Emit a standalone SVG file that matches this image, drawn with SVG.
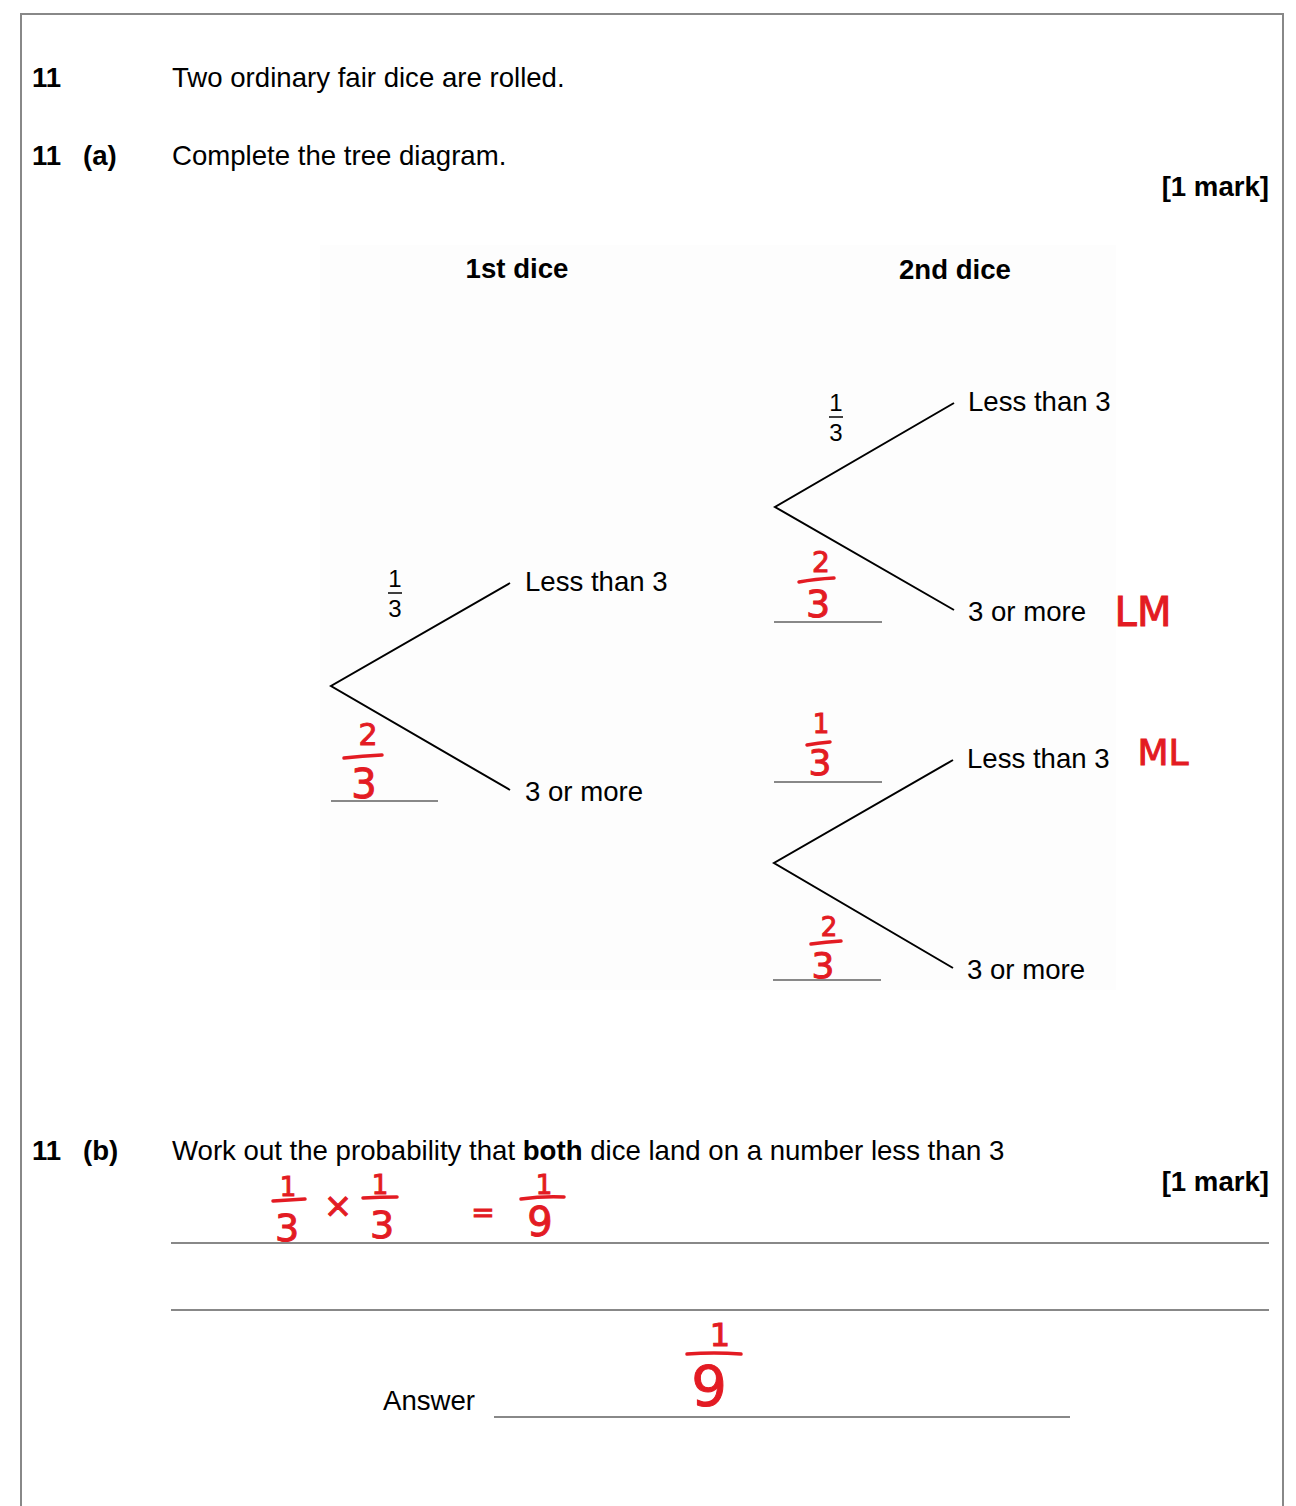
<svg xmlns="http://www.w3.org/2000/svg" width="1296" height="1506" viewBox="0 0 1296 1506">
<style>
.t{font-family:"Liberation Sans",Arial,sans-serif;font-size:27.6px;fill:#000}
.b{font-weight:bold}
.f{font-family:"Liberation Sans",Arial,sans-serif;font-size:24px;fill:#000;text-anchor:middle}
.br{stroke:#000;stroke-width:2;fill:none}
.ln{stroke:#888;stroke-width:2;fill:none}
.h{font-family:"DejaVu Sans","Liberation Sans",sans-serif;fill:#e31b23;stroke:#e31b23;stroke-width:1;text-anchor:middle}
.hl{stroke:#e31b23;stroke-width:3.5;stroke-linecap:round;fill:none}
</style>
<rect width="1296" height="1506" fill="#fff"/>
<path d="M21 1506 V14 H1283 V1506" fill="none" stroke="#888" stroke-width="2"/>
<rect x="320" y="245" width="796" height="745" fill="#fdfdfd"/>

<g id="header">
<text class="t b" x="32" y="87">11</text>
<text class="t" x="172" y="87">Two ordinary fair dice are rolled.</text>
<text class="t b" x="32" y="165">11</text>
<text class="t b" x="83" y="165">(a)</text>
<text class="t" x="172" y="165">Complete the tree diagram.</text>
<text class="t b" x="1269" y="196" text-anchor="end">[1 mark]</text>
<text class="t b" x="517" y="278" text-anchor="middle">1st dice</text>
<text class="t b" x="955" y="279" text-anchor="middle">2nd dice</text>
</g>

<g id="connectors">
<path class="br" d="M510 583 L331 686 L510 790"/>
<path class="br" d="M954 403 L775 507 L954 610"/>
<path class="br" d="M953 760 L774 863 L953 968"/>
<line class="ln" x1="331" y1="801" x2="438" y2="801"/>
<line class="ln" x1="774" y1="622" x2="882" y2="622"/>
<line class="ln" x1="774" y1="782" x2="882" y2="782"/>
<line class="ln" x1="773" y1="980" x2="881" y2="980"/>
</g>

<g id="node-1st-less">
<text class="t" x="525" y="591">Less than 3</text>
<text class="f" x="395" y="587">1</text>
<line x1="388" y1="593" x2="402" y2="593" stroke="#000" stroke-width="1.5"/>
<text class="f" x="395" y="617">3</text>
</g>
<g id="node-1st-more">
<text class="t" x="525" y="801">3 or more</text>
<text class="h" x="368" y="745" font-size="30">2</text>
<path class="hl" d="M344 758 Q362 756 382 755"/>
<text class="h" x="364" y="798" font-size="40">3</text>
</g>

<g id="node-2nd-upper-less">
<text class="t" x="968" y="411">Less than 3</text>
<text class="f" x="836" y="411">1</text>
<line x1="829" y1="417" x2="843" y2="417" stroke="#000" stroke-width="1.5"/>
<text class="f" x="836" y="441">3</text>
</g>
<g id="node-2nd-upper-more">
<text class="t" x="968" y="621">3 or more</text>
<text class="h" x="821" y="572" font-size="28">2</text>
<path class="hl" d="M799 582 Q815 579 834 578"/>
<text class="h" x="818" y="617" font-size="38">3</text>
<text class="h" x="1143" y="626" font-size="40">LM</text>
</g>

<g id="node-2nd-lower-less">
<text class="t" x="967" y="768">Less than 3</text>
<text class="h" x="821" y="733" font-size="26">1</text>
<path class="hl" d="M807 745 Q818 743 830 742"/>
<text class="h" x="820" y="775" font-size="36">3</text>
<text class="h" x="1163" y="765" font-size="36">ML</text>
</g>
<g id="node-2nd-lower-more">
<text class="t" x="967" y="979">3 or more</text>
<text class="h" x="829" y="936" font-size="26">2</text>
<path class="hl" d="M811 944 Q826 942 841 941"/>
<text class="h" x="823" y="978" font-size="36">3</text>
</g>

<g id="part-b">
<text class="t b" x="32" y="1160">11</text>
<text class="t b" x="83" y="1160">(b)</text>
<text class="t" x="172" y="1160">Work out the probability that <tspan class="b">both</tspan> dice land on a number less than 3</text>
<text class="t b" x="1269" y="1191" text-anchor="end">[1 mark]</text>
<line class="ln" x1="171" y1="1243" x2="1269" y2="1243"/>
<line class="ln" x1="171" y1="1310" x2="1269" y2="1310"/>
<text class="t" x="383" y="1410">Answer</text>
<line class="ln" x1="494" y1="1417" x2="1070" y2="1417"/>
</g>

<g id="working">
<text class="h" x="288" y="1196" font-size="26">1</text>
<path class="hl" d="M273 1201 Q289 1200 305 1199"/>
<text class="h" x="287" y="1241" font-size="38">3</text>
<text class="h" x="338" y="1217" font-size="34">×</text>
<text class="h" x="380" y="1194" font-size="26">1</text>
<path class="hl" d="M363 1198 Q380 1197 397 1197"/>
<text class="h" x="382" y="1238" font-size="38">3</text>
<text class="h" x="483" y="1222" font-size="28">=</text>
<text class="h" x="544" y="1194" font-size="26">1</text>
<path class="hl" d="M521 1199 Q543 1196 564 1197"/>
<text class="h" x="540" y="1236" font-size="40">9</text>
<text class="h" x="720" y="1346" font-size="32">1</text>
<path class="hl" d="M687 1354 Q714 1352 741 1354"/>
<text class="h" x="709" y="1405" font-size="56">9</text>
</g>
</svg>
